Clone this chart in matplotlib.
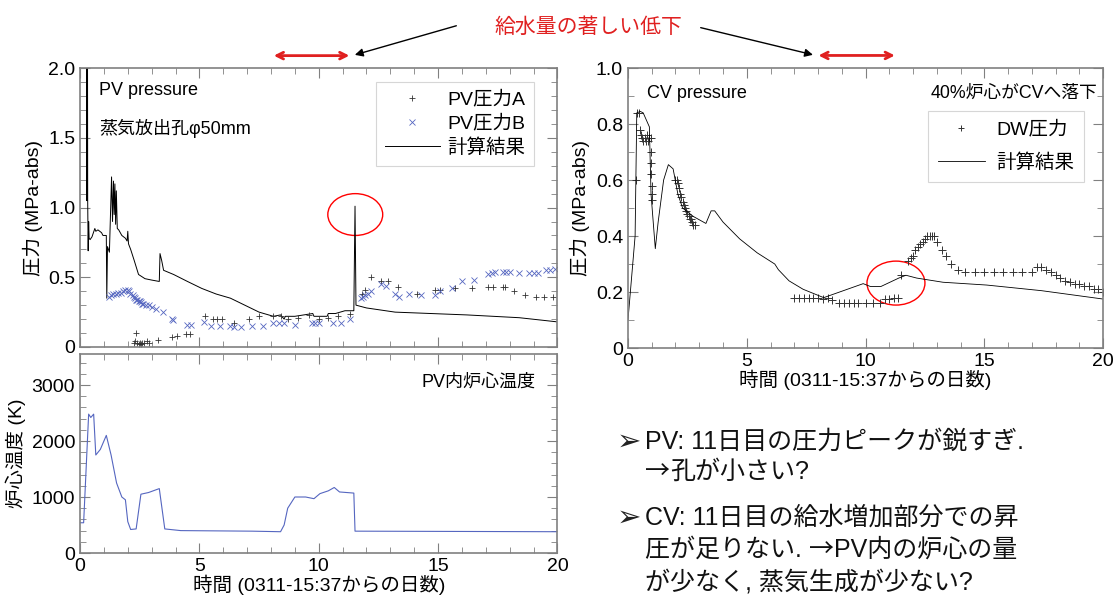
import numpy as np
import matplotlib
matplotlib.use('Agg')
from matplotlib import pyplot as plt
from matplotlib.patches import Ellipse
from matplotlib.ticker import MultipleLocator

plt.rcParams['font.family'] = ['Liberation Sans', 'Noto Sans CJK JP', 'DejaVu Sans']

# PV pressure - calculation
pv_calc_t = [0.27, 0.28, 0.29, 0.30, 0.31, 0.32, 0.34, 0.36, 0.38, 0.42, 0.5, 0.62, 0.66, 0.75, 0.9, 0.96,
             1.10, 1.12, 1.15, 1.23, 1.32, 1.36, 1.40, 1.43, 1.46, 1.49, 1.52, 1.56, 1.62, 1.75, 1.9,
             1.97, 2.0, 2.03, 2.12, 2.27, 2.45, 2.72, 3.0, 3.32, 3.35, 3.42, 3.5, 3.92, 4.5, 5.1, 5.7,
             6.3, 6.9, 7.5, 8.1, 8.4, 8.55, 8.6, 9.0, 9.75, 9.8, 10.35, 10.4, 10.7, 11.1, 11.47, 11.52,
             11.56, 12.0, 13.2, 16.2, 18.4, 20.0]
pv_calc_p = [2.5, 1.05, 2.5, 1.05, 2.5, 1.05, 0.69, 0.90, 0.78, 0.77, 0.79, 0.85, 0.83, 0.84, 0.82, 0.80,
             0.80, 0.35, 0.72, 0.68, 1.22, 0.90, 1.19, 0.95, 1.17, 0.88, 1.12, 0.85, 0.84, 0.80, 0.78,
             0.76, 0.83, 0.74, 0.70, 0.62, 0.52, 0.49, 0.48, 0.47, 0.67, 0.62, 0.55, 0.52, 0.47, 0.42, 0.38,
             0.35, 0.30, 0.25, 0.22, 0.23, 0.20, 0.22, 0.22, 0.24, 0.22, 0.22, 0.24, 0.24, 0.26, 0.26, 1.01,
             0.30, 0.28, 0.25, 0.23, 0.21, 0.18]

# PV pressure A (measured)
pv_a_t = [2.25, 2.3, 2.35, 2.4, 2.45, 2.5, 2.55, 2.6, 2.7, 2.8, 2.87, 3.27, 3.85, 4.07, 4.45, 4.6,
          5.23, 5.55, 5.75, 5.95, 6.46, 7.06, 7.5, 8.1, 8.4, 8.7, 9.15, 9.6, 10.0, 10.4, 10.8, 11.3,
          11.8, 11.95, 12.2, 12.6, 12.9, 13.3, 14.1, 14.85, 15.1, 15.7, 16.4, 17.1, 17.3, 17.7, 17.8,
          18.2, 18.65, 19.1, 19.45, 19.8]
pv_a_p = [0.03, 0.04, 0.1, 0.03, 0.02, 0.03, 0.02, 0.03, 0.03, 0.04, 0.03, 0.05, 0.07, 0.08, 0.09, 0.09,
          0.22, 0.20, 0.20, 0.20, 0.17, 0.20, 0.22, 0.22, 0.22, 0.20, 0.21, 0.23, 0.20, 0.21, 0.22, 0.24,
          0.38, 0.41, 0.50, 0.47, 0.47, 0.43, 0.38, 0.41, 0.41, 0.42, 0.42, 0.43, 0.43, 0.43, 0.43,
          0.40, 0.37, 0.36, 0.36, 0.36]

# PV pressure B (measured)
pv_b_t = [1.23, 1.3, 1.4, 1.5, 1.6, 1.7, 1.8, 1.9, 2.0, 2.05, 2.1, 2.2, 2.25, 2.3, 2.35, 2.4, 2.45,
          2.5, 2.55, 2.6, 2.65, 2.75, 2.87, 3.0, 3.17, 3.47, 3.85, 3.9, 4.5, 4.65, 5.2, 5.5, 5.85, 6.3,
          6.46, 6.76, 7.2, 7.66, 8.1, 8.33, 8.55, 9.0, 9.7, 9.85, 10.0, 10.6, 10.95, 11.3, 11.75, 11.85,
          11.95, 12.05, 12.2, 12.6, 12.8, 13.2, 13.35, 13.8, 14.3, 14.85, 15.1, 15.6, 16.0, 16.5, 17.1,
          17.25, 17.4, 17.7, 17.85, 18.0, 18.4, 18.8, 19.0, 19.2, 19.5, 19.7, 19.9]
pv_b_p = [0.36, 0.37, 0.38, 0.38, 0.39, 0.39, 0.40, 0.41, 0.41, 0.40, 0.38, 0.37, 0.36, 0.35, 0.34, 0.34, 0.33,
          0.33, 0.32, 0.31, 0.31, 0.30, 0.30, 0.29, 0.27, 0.25, 0.20, 0.19, 0.16, 0.16, 0.18, 0.15, 0.15, 0.15,
          0.14, 0.14, 0.15, 0.15, 0.17, 0.17, 0.17, 0.16, 0.17, 0.17, 0.17, 0.17, 0.17, 0.20, 0.35, 0.36,
          0.37, 0.38, 0.40, 0.45, 0.44, 0.38, 0.36, 0.38, 0.37, 0.37, 0.40, 0.42, 0.47, 0.48, 0.52,
          0.53, 0.54, 0.54, 0.54, 0.54, 0.53, 0.53, 0.53, 0.53, 0.55, 0.55, 0.56]

# PV core temperature (calculation)
temp_t = [0.0, 0.15, 0.2, 0.36, 0.45, 0.57, 0.66, 0.85, 1.1, 1.3, 1.53, 1.75, 1.9, 2.0, 2.12, 2.35,
          2.55, 2.87, 3.32, 3.55, 4.22, 7.2, 8.4, 8.55, 8.7, 9.0, 9.45, 9.8, 10.05, 10.4, 10.65, 10.87,
          11.47, 11.52, 20.0]
temp_k = [540, 540, 1000, 2480, 2420, 2480, 1750, 1850, 2100, 1750, 1250, 1000, 950, 560, 420, 430,
          1050, 1080, 1150, 430, 400, 390, 380, 500, 800, 1000, 1000, 970, 1060, 1110, 1170, 1090,
          1070, 390, 380]

# CV pressure - calculation
cv_calc_t = [0.0, 0.15, 0.3, 0.37, 0.52, 0.64, 0.9, 0.97, 1.15, 1.27, 1.5, 1.7, 1.9, 2.1, 2.3, 2.75,
             3.28, 3.5, 3.65, 4.0, 4.7, 5.44, 6.18, 6.33, 6.78, 7.37, 8.24, 8.57, 9.9, 10.2, 10.65,
             11.4, 11.7, 12.15, 13.26, 15.1, 17.4, 20.0]
cv_calc_p = [0.10, 0.25, 0.40, 0.84, 0.845, 0.84, 0.79, 0.55, 0.355, 0.45, 0.60, 0.655, 0.64, 0.55, 0.50, 0.47,
             0.445, 0.49, 0.49, 0.45, 0.39, 0.34, 0.30, 0.28, 0.24, 0.21, 0.18, 0.19, 0.23, 0.22, 0.22,
             0.25, 0.26, 0.25, 0.235, 0.225, 0.205, 0.175]

# DW pressure (measured)
dw_t = [0.35, 0.4, 0.45, 0.5, 0.55, 0.6, 0.65, 0.7, 0.75, 0.8, 0.85, 0.9, 0.95, 0.96, 0.97, 0.98,
        0.99, 1.0, 1.0, 2.0, 2.05, 2.1, 2.15, 2.2, 2.25, 2.3, 2.35, 2.4, 2.45, 2.5, 2.55, 2.6, 2.65,
        2.7, 2.75, 2.8, 7.0, 7.2, 7.4, 7.6, 7.8, 8.0, 8.2, 8.4, 8.6, 8.9, 9.1, 9.3, 9.5, 9.7, 10.0,
        10.3, 10.6, 10.8, 11.0, 11.2, 11.35, 11.5, 11.8, 11.9, 12.0, 12.1, 12.2, 12.3, 12.4, 12.5,
        12.6, 12.7, 12.8, 12.9, 13.0, 13.2, 13.4, 13.6, 13.9, 14.2, 14.6, 15.0, 15.4, 15.8, 16.2,
        16.6, 17.0, 17.2, 17.4, 17.6, 17.8, 18.0, 18.2, 18.4, 18.6, 18.8, 19.0, 19.2, 19.4, 19.6,
        19.8, 20.0]
dw_p = [0.60, 0.84, 0.84, 0.78, 0.76, 0.75, 0.74, 0.75, 0.74, 0.76, 0.74, 0.75, 0.75, 0.70, 0.66, 0.62,
        0.58, 0.55, 0.53, 0.60, 0.60, 0.59, 0.57, 0.55, 0.54, 0.52, 0.51, 0.50, 0.49, 0.48, 0.47, 0.46, 0.46,
        0.45, 0.44, 0.44, 0.18, 0.18, 0.18, 0.18, 0.18, 0.18, 0.175, 0.18, 0.17, 0.16, 0.16, 0.16, 0.16, 0.16, 0.16,
        0.16, 0.16, 0.175, 0.175, 0.18, 0.18, 0.26, 0.31, 0.32, 0.33, 0.35, 0.36, 0.37, 0.38, 0.39,
        0.40, 0.40, 0.40, 0.40, 0.38, 0.35, 0.33, 0.30, 0.28, 0.27, 0.27, 0.27, 0.27, 0.27, 0.27,
        0.27, 0.27, 0.29, 0.29, 0.28, 0.27, 0.26, 0.25, 0.24, 0.235, 0.23, 0.23, 0.22, 0.22, 0.21,
        0.21, 0.20]

SPINE = '#808080'
BLUE = '#5566c0'
CJK = ['Noto Sans CJK JP']


def style_axes(ax, xmaj, xmin, ymaj, ymin):
    ax.xaxis.set_major_locator(MultipleLocator(xmaj))
    ax.xaxis.set_minor_locator(MultipleLocator(xmin))
    ax.yaxis.set_major_locator(MultipleLocator(ymaj))
    ax.yaxis.set_minor_locator(MultipleLocator(ymin))
    ax.tick_params(which='both', direction='in', top=True, right=True, color=SPINE, labelsize=14)
    ax.tick_params(which='major', length=7)
    ax.tick_params(which='minor', length=4)
    for s in ax.spines.values():
        s.set_color(SPINE)
        s.set_linewidth(1.2)


fig = plt.figure(figsize=(11.18, 5.97), dpi=100)

# ---- PV pressure
ax1 = fig.add_axes([0.0716, 0.4188, 0.427, 0.467])
ax1.plot(pv_calc_t, pv_calc_p, color='black', lw=0.7, label='計算結果')
ax1.plot(pv_a_t, pv_a_p, ls='none', marker='+', ms=5, mew=0.6, color='#333333', label='PV圧力A')
ax1.plot(pv_b_t, pv_b_p, ls='none', marker='x', ms=5, mew=0.6, color=BLUE, label='PV圧力B')
ax1.set_xlim(0, 20)
ax1.set_ylim(0, 2.0)
style_axes(ax1, 5, 1, 0.5, 0.1)
ax1.set_yticks([0, 0.5, 1.0, 1.5, 2.0], ['0', '0.5', '1.0', '1.5', '2.0'])
ax1.tick_params(labelbottom=False)
ax1.set_ylabel('圧力 (MPa-abs)', fontsize=14)
ax1.text(0.04, 0.92, 'PV pressure', transform=ax1.transAxes, fontsize=13, va='center')
ax1.text(0.04, 0.785, '蒸気放出孔φ50mm', transform=ax1.transAxes, fontsize=13, va='center')
h, l = ax1.get_legend_handles_labels()
leg1 = ax1.legend([h[1], h[2], h[0]], [l[1], l[2], l[0]], loc='upper right', bbox_to_anchor=(0.951, 0.95),
                  borderaxespad=0, fontsize=14, frameon=True, fancybox=False, edgecolor='#cccccc',
                  handlelength=2.8, handletextpad=0.4, labelspacing=0.3, borderpad=0.45, markerscale=0.8)
leg1.get_frame().set_linewidth(0.8)
ax1.add_patch(Ellipse((11.53, 0.95), 2.3, 0.30, fill=False, edgecolor='red', lw=1))

# ---- PV core temperature
ax2 = fig.add_axes([0.0716, 0.0737, 0.427, 0.333])
ax2.plot(temp_t, temp_k, color=BLUE, lw=0.8)
ax2.set_xlim(0, 20)
ax2.set_ylim(0, 3550)
style_axes(ax2, 5, 1, 1000, 200)
ax2.set_ylabel('炉心温度 (K)', fontsize=14)
ax2.set_xlabel('時間 (0311-15:37からの日数)', fontsize=14, labelpad=0)
ax2.text(0.955, 0.86, 'PV内炉心温度', transform=ax2.transAxes, fontsize=13, ha='right', va='center')

# ---- CV pressure
ax3 = fig.add_axes([0.5617, 0.417, 0.425, 0.469])
ax3.plot(dw_t, dw_p, ls='none', marker='+', ms=6, mew=0.7, color='#333333', label='DW圧力')
ax3.plot(cv_calc_t, cv_calc_p, color='black', lw=0.6, label='計算結果')
ax3.set_xlim(0, 20)
ax3.set_ylim(0, 1.0)
style_axes(ax3, 5, 1, 0.2, 0.1)
ax3.set_yticks([0, 0.2, 0.4, 0.6, 0.8, 1.0], ['0', '0.2', '0.4', '0.6', '0.8', '1.0'])
ax3.set_ylabel('圧力 (MPa-abs)', fontsize=14)
ax3.set_xlabel('時間 (0311-15:37からの日数)', fontsize=14, labelpad=0)
ax3.text(0.04, 0.91, 'CV pressure', transform=ax3.transAxes, fontsize=13, va='center')
ax3.text(0.988, 0.91, '40%炉心がCVへ落下', transform=ax3.transAxes, fontsize=12.8, ha='right', va='center')
leg3 = ax3.legend(loc='upper right', bbox_to_anchor=(0.96, 0.846), borderaxespad=0, fontsize=14,
                  frameon=True, fancybox=False, edgecolor='#cccccc', handlelength=2.4, handletextpad=0.6,
                  labelspacing=0.75, borderpad=0.5, markerscale=0.8)
leg3.get_frame().set_linewidth(0.8)
ax3.add_patch(Ellipse((11.28, 0.232), 2.44, 0.157, fill=False, edgecolor='red', lw=1))

# ---- annotations at the top
fig.text(588 / 1118, 1 - 27 / 597, '給水量の著しい低下', color='#e02020', fontsize=15, ha='center', va='center')
for ax, x0, x1 in [(ax1, 8.0, 11.4), (ax3, 7.9, 11.35)]:
    ax.annotate('', xy=(x0, 1.045), xytext=(x1, 1.045), xycoords=('data', 'axes fraction'),
                arrowprops=dict(arrowstyle='<->', color='#e02020', lw=2, mutation_scale=12),
                annotation_clip=False)
ax1.annotate('', xy=(11.4, 1.045), xycoords=('data', 'axes fraction'),
             xytext=(459 / 1118, 1 - 25 / 597), textcoords='figure fraction',
             arrowprops=dict(arrowstyle='-|>', color='black', lw=1, mutation_scale=12), annotation_clip=False)
ax3.annotate('', xy=(7.9, 1.045), xycoords=('data', 'axes fraction'),
             xytext=(698 / 1118, 1 - 27 / 597), textcoords='figure fraction',
             arrowprops=dict(arrowstyle='-|>', color='black', lw=1, mutation_scale=12), annotation_clip=False)

# ---- bullet notes
fig.text(617 / 1118, 1 - 442 / 597, '➢', fontsize=21, ha='left', va='center', color='#222222',
         family=['DejaVu Sans'])
fig.text(617 / 1118, 1 - 518 / 597, '➢', fontsize=21, ha='left', va='center', color='#222222',
         family=['DejaVu Sans'])
note_lines = [
    (442, [('PV: 11日目の圧力ピークが鋭すぎ.', None)]),
    (472, [('→', CJK), ('孔が小さい?', None)]),
    (518, [('CV: 11日目の給水増加部分での昇', None)]),
    (550, [('圧が足りない. ', None), ('→', CJK), ('PV内の炉心の量', None)]),
    (582, [('が少なく, 蒸気生成が少ない?', None)]),
]
renderer = fig.canvas.get_renderer()
for y, parts in note_lines:
    x = 645
    for s, fam in parts:
        kw = {} if fam is None else {'family': fam}
        t = fig.text(x / 1118, 1 - y / 597, s, fontsize=18, ha='left', va='center', color='#111111', **kw)
        x += t.get_window_extent(renderer).width

fig.savefig('out.png', dpi=100)
